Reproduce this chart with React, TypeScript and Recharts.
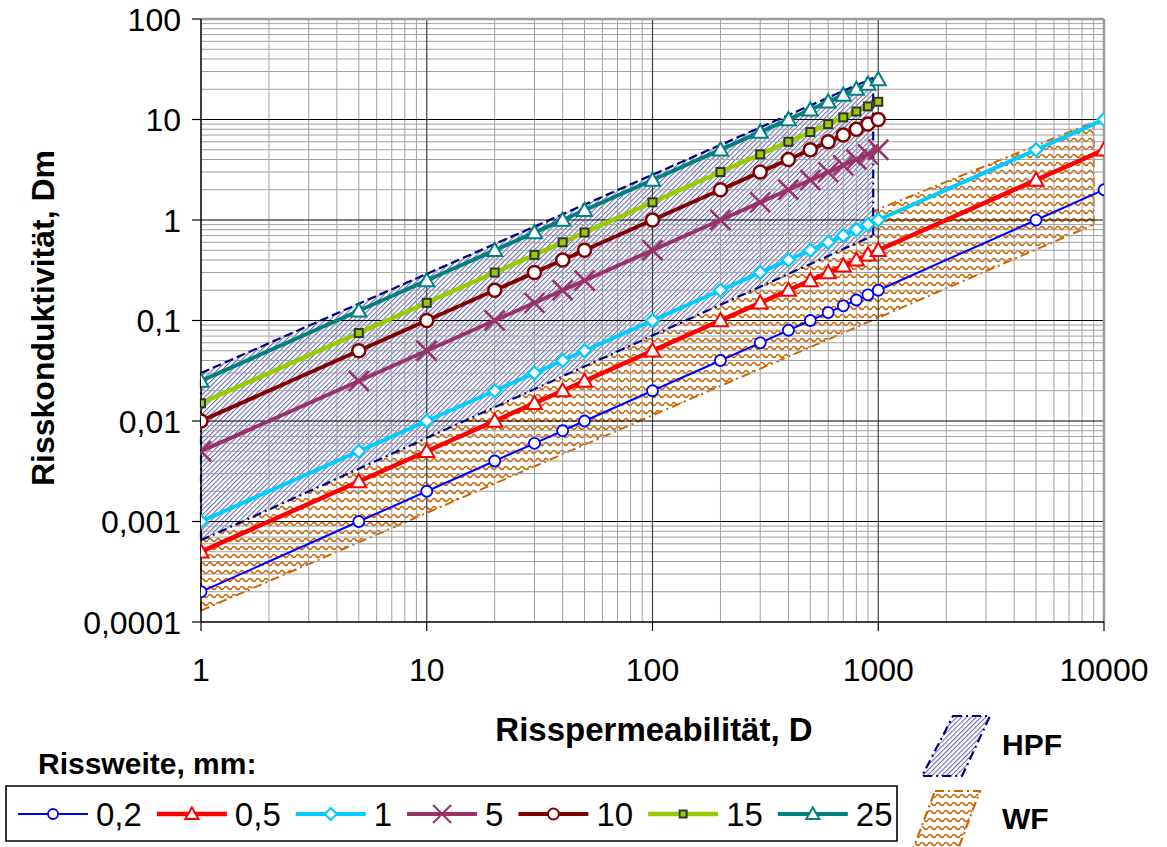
import React from "react";
import { ComposedChart, Line, Area, XAxis, YAxis, ReferenceLine } from "recharts";

const FONT = '"Liberation Sans", Arial, Helvetica, sans-serif';

// Permeability sample points (D)
const permeabilityLong = [1, 5, 10, 20, 30, 40, 50, 100, 200, 300, 400, 500, 600, 700, 800, 900, 1000, 5000, 10000];
const permeabilityShort = [1, 5, 10, 20, 30, 40, 50, 100, 200, 300, 400, 500, 600, 700, 800, 900, 1000];

// Crack conductivity (Dm) for each crack width
const cond02 = [0.0002, 0.001, 0.002, 0.004, 0.006, 0.008, 0.01, 0.02, 0.04, 0.06, 0.08, 0.1, 0.12, 0.14, 0.16, 0.18, 0.2, 1, 2];
const cond05 = [0.0005, 0.0025, 0.005, 0.01, 0.015, 0.02, 0.025, 0.05, 0.1, 0.15, 0.2, 0.25, 0.3, 0.35, 0.4, 0.45, 0.5, 2.5, 5];
const cond1 = [0.001, 0.005, 0.01, 0.02, 0.03, 0.04, 0.05, 0.1, 0.2, 0.3, 0.4, 0.5, 0.6, 0.7, 0.8, 0.9, 1, 5, 10];
const cond5 = [0.005, 0.025, 0.05, 0.1, 0.15, 0.2, 0.25, 0.5, 1, 1.5, 2, 2.5, 3, 3.5, 4, 4.5, 5];
const cond10 = [0.01, 0.05, 0.1, 0.2, 0.3, 0.4, 0.5, 1, 2, 3, 4, 5, 6, 7, 8, 9, 10];
const cond15 = [0.015, 0.075, 0.15, 0.3, 0.45, 0.6, 0.75, 1.5, 3, 4.5, 6, 7.5, 9, 10.5, 12, 13.5, 15];
const cond25 = [0.025, 0.125, 0.25, 0.5, 0.75, 1, 1.25, 2.5, 5, 7.5, 10, 12.5, 15, 17.5, 20, 22.5, 25];

const widthLabels = ["0,2", "0,5", "1", "5", "10", "15", "25"];

// Axis ticks
const xTicks = [1, 10, 100, 1000, 10000];
const xTickLabels = ["1", "10", "100", "1000", "10000"];
const yTicks = [0.0001, 0.001, 0.01, 0.1, 1, 10, 100];
const yTickLabels = ["0,0001", "0,001", "0,01", "0,1", "1", "10", "100"];

// HPF band: permeability limits with lower / upper conductivity edges
const hpfPermeability = [1, 950];
const hpfLower = [0.00065, 0.7];
const hpfUpper = [0.03, 26];

// WF band
const wfPermeability = [1, 9000];
const wfLower = [0.00013, 0.9];
const wfUpper = [0.0024, 9.4];

const bandLabels = ["HPF", "WF"];

type MarkerKind = "circle" | "triangle" | "diamond" | "cross" | "square";

interface SeriesStyle {
  color: string;
  width: number;
  marker: MarkerKind;
  size: number;
  legendSize: number;
  markerStroke: string;
  markerWidth: number;
  markerFill: string;
}

const seriesStyles: SeriesStyle[] = [
  { color: "#0000FF", width: 2, marker: "circle", size: 5.5, legendSize: 5, markerStroke: "#0000FF", markerWidth: 1.8, markerFill: "#FFFFFF" },
  { color: "#FF0000", width: 4.5, marker: "triangle", size: 7.5, legendSize: 6.5, markerStroke: "#FF0000", markerWidth: 2, markerFill: "#FFFFFF" },
  { color: "#00CCFF", width: 4, marker: "diamond", size: 6.5, legendSize: 6, markerStroke: "#00CCFF", markerWidth: 2.2, markerFill: "#FFFFFF" },
  { color: "#993366", width: 4, marker: "cross", size: 10, legendSize: 9, markerStroke: "#993366", markerWidth: 2.5, markerFill: "none" },
  { color: "#800000", width: 4, marker: "circle", size: 6.5, legendSize: 5.5, markerStroke: "#800000", markerWidth: 2.5, markerFill: "#FFFFFF" },
  { color: "#99CC00", width: 4.5, marker: "square", size: 4, legendSize: 3.5, markerStroke: "#333333", markerWidth: 2, markerFill: "#99CC00" },
  { color: "#008080", width: 4, marker: "triangle", size: 7.5, legendSize: 6.5, markerStroke: "#008080", markerWidth: 2, markerFill: "#FFFFFF" },
];

const seriesValues = [cond02, cond05, cond1, cond5, cond10, cond15, cond25];
const seriesX = [permeabilityLong, permeabilityLong, permeabilityLong, permeabilityShort, permeabilityShort, permeabilityShort, permeabilityShort];

const seriesData = seriesValues.map((vals, s) => vals.map((y, i) => ({ x: seriesX[s][i], y })));
const hpfData = hpfPermeability.map((x, i) => ({ x, band: [hpfLower[i], hpfUpper[i]] }));
const wfData = wfPermeability.map((x, i) => ({ x, band: [wfLower[i], wfUpper[i]] }));

// log grid: minor lines 2..9 within each decade
const xDecades = [1, 10, 100, 1000];
const yDecades = [0.0001, 0.001, 0.01, 0.1, 1, 10];
const minorSteps = [2, 3, 4, 5, 6, 7, 8, 9];
const xMinor = xDecades.flatMap((d) => minorSteps.map((m) => m * d));
const yMinor = yDecades.flatMap((d) => minorSteps.map((m) => m * d));
const xMajorInner = [10, 100, 1000];
const yMajorInner = [0.001, 0.01, 0.1, 1, 10];

function markerShape(kind: MarkerKind, cx: number, cy: number, s: number, stroke: string, sw: number, fill: string, key?: string) {
  switch (kind) {
    case "circle":
      return <circle key={key} cx={cx} cy={cy} r={s} fill={fill} stroke={stroke} strokeWidth={sw} />;
    case "triangle":
      return (
        <polygon
          key={key}
          points={`${cx},${cy - s} ${cx + s},${cy + s * 0.75} ${cx - s},${cy + s * 0.75}`}
          fill={fill}
          stroke={stroke}
          strokeWidth={sw}
        />
      );
    case "diamond":
      return (
        <polygon
          key={key}
          points={`${cx},${cy - s} ${cx + s},${cy} ${cx},${cy + s} ${cx - s},${cy}`}
          fill={fill}
          stroke={stroke}
          strokeWidth={sw}
        />
      );
    case "cross":
      return (
        <g key={key} stroke={stroke} strokeWidth={sw}>
          <line x1={cx - s} y1={cy - s} x2={cx + s} y2={cy + s} />
          <line x1={cx - s} y1={cy + s} x2={cx + s} y2={cy - s} />
        </g>
      );
    case "square":
    default:
      return <rect key={key} x={cx - s} y={cy - s} width={2 * s} height={2 * s} fill={fill} stroke={stroke} strokeWidth={sw} />;
  }
}

const makeDot = (st: SeriesStyle) => (p: any) => {
  const { cx, cy, index } = p;
  if (cx == null || cy == null || isNaN(cx) || isNaN(cy)) return <g key={`e${index}`} />;
  return markerShape(st.marker, cx, cy, st.size, st.markerStroke, st.markerWidth, st.markerFill, `d${index}`);
};

const XTick = (props: any) => {
  const { x, y, payload } = props;
  const idx = xTicks.indexOf(payload.value);
  return (
    <text x={x} y={y + 50} textAnchor="middle" fontSize={32} fontFamily={FONT} fill="#000">
      {idx >= 0 ? xTickLabels[idx] : ""}
    </text>
  );
};

const YTick = (props: any) => {
  const { x, y, payload } = props;
  const idx = yTicks.findIndex((t) => Math.abs(t - payload.value) / t < 1e-6);
  return (
    <text x={x - 11} y={y} dy="0.36em" textAnchor="end" fontSize={32} fontFamily={FONT} fill="#000">
      {idx >= 0 ? yTickLabels[idx] : ""}
    </text>
  );
};

const HPF_STROKE = "#000080";
const WF_STROKE = "#CC6600";

function PatternDefs({ prefix }: { prefix: string }) {
  return (
    <defs>
      <pattern id={`${prefix}hpf`} width={3.4} height={3.4} patternUnits="userSpaceOnUse" patternTransform="rotate(45)">
        <rect x={0} y={0} width={3.4} height={3.4} fill="#FFFFFF" />
        <rect x={0} y={0} width={1.0} height={3.4} fill="#6464AE" />
      </pattern>
      <pattern id={`${prefix}wf`} width={8} height={8} patternUnits="userSpaceOnUse">
        <rect x={0} y={0} width={8} height={8} fill="#FFFFFF" />
        <path d="M0,4 Q2,1 4,4 Q6,7 8,4" fill="none" stroke="#CC6600" strokeWidth={1.6} />
      </pattern>
    </defs>
  );
}

// legend layout helpers
const LEGEND_FONT = 33;
const charEm = (c: string) => (c === "," ? 0.278 : 0.556);
const labelWidth = (t: string) => t.split("").reduce((a, c) => a + charEm(c) * LEGEND_FONT, 0);

function BottomLegend() {
  const items: React.ReactNode[] = [];
  let lx = 18;
  const cy = 814;
  widthLabels.forEach((label, i) => {
    const st = seriesStyles[i];
    items.push(
      <g key={label}>
        <line x1={lx} y1={cy} x2={lx + 70} y2={cy} stroke={st.color} strokeWidth={st.width} />
        {markerShape(st.marker, lx + 35, cy, st.legendSize, st.markerStroke, Math.min(st.markerWidth, 2), st.markerFill)}
        <text x={lx + 78} y={cy + 12} fontSize={LEGEND_FONT} fontFamily={FONT} fill="#000">
          {label}
        </text>
      </g>
    );
    lx += 70 + 8 + labelWidth(label) + 15;
  });
  return (
    <g>
      <text x={38} y={774} fontSize={30} fontWeight="bold" fontFamily={FONT} fill="#000">
        Rissweite, mm:
      </text>
      <rect x={6} y={786} width={891} height={55} fill="#FFFFFF" />
      {items}
      <path d="M6,786 H897 V841 H6 Z" fill="none" stroke="#000" strokeWidth={1.6} />
    </g>
  );
}

function BandKeys() {
  return (
    <g>
      <polygon
        points="953,716 990,716 962,776 922,776"
        fill="url(#keyhpf)"
        stroke={HPF_STROKE}
        strokeWidth={2.2}
        strokeDasharray="9 4 2 4"
      />
      <text x={1002} y={755} fontSize={30} fontWeight="bold" fontFamily={FONT} fill="#000">
        {bandLabels[0]}
      </text>
      <polygon
        points="935,791 980,791 957,852 912,852"
        fill="url(#keywf)"
        stroke={WF_STROKE}
        strokeWidth={2.2}
        strokeDasharray="9 4 2 4"
      />
      <text x={1002} y={829} fontSize={30} fontWeight="bold" fontFamily={FONT} fill="#000">
        {bandLabels[1]}
      </text>
    </g>
  );
}

export default function App() {
  return (
    <div style={{ position: "relative", width: 1167, height: 847, overflow: "hidden", fontFamily: FONT, background: "#FFFFFF" }}>
      <style>{"html,body{margin:0;padding:0;overflow:hidden;}"}</style>
      <div style={{ position: "absolute", left: 0, top: 0, width: 1167, height: 847 }}>
        <ComposedChart width={1167} height={847} margin={{ top: 19, right: 63, bottom: 0, left: 0 }}>
          <PatternDefs prefix="plot" />
          <XAxis
            type="number"
            dataKey="x"
            scale="log"
            domain={[1, 10000]}
            ticks={xTicks}
            allowDataOverflow
            height={225}
            tickSize={9}
            tickMargin={0}
            tick={<XTick />}
            axisLine={{ stroke: "#000", strokeWidth: 1.5 }}
            tickLine={{ stroke: "#000", strokeWidth: 1.2 }}
          />
          <YAxis
            type="number"
            scale="log"
            domain={[0.0001, 100]}
            ticks={yTicks}
            allowDataOverflow
            width={201}
            tickSize={9}
            tickMargin={0}
            tick={<YTick />}
            axisLine={{ stroke: "#000", strokeWidth: 1.5 }}
            tickLine={{ stroke: "#000", strokeWidth: 1.2 }}
          />

          <Area
            data={wfData}
            dataKey="band"
            type="linear"
            stroke="none"
            fill="url(#plotwf)"
            fillOpacity={1}
            isAnimationActive={false}
            activeDot={false}
            zIndex={100}
          />
          <ReferenceLine
            segment={[{ x: wfPermeability[0], y: wfLower[0] }, { x: wfPermeability[1], y: wfLower[1] }]}
            stroke={WF_STROKE} strokeWidth={2} strokeDasharray="9 4 2 4" zIndex={110}
          />
          <ReferenceLine
            segment={[{ x: wfPermeability[0], y: wfUpper[0] }, { x: wfPermeability[1], y: wfUpper[1] }]}
            stroke={WF_STROKE} strokeWidth={2} strokeDasharray="9 4 2 4" zIndex={110}
          />
          <ReferenceLine
            segment={[{ x: wfPermeability[0], y: wfLower[0] }, { x: wfPermeability[0], y: wfUpper[0] }]}
            stroke={WF_STROKE} strokeWidth={2} strokeDasharray="9 4 2 4" zIndex={110}
          />
          <ReferenceLine
            segment={[{ x: wfPermeability[1], y: wfLower[1] }, { x: wfPermeability[1], y: wfUpper[1] }]}
            stroke={WF_STROKE} strokeWidth={2} strokeDasharray="9 4 2 4" zIndex={110}
          />

          <Area
            data={hpfData}
            dataKey="band"
            type="linear"
            stroke="none"
            fill="url(#plothpf)"
            fillOpacity={1}
            isAnimationActive={false}
            activeDot={false}
            zIndex={120}
          />

          {xMinor.map((v) => (
            <ReferenceLine key={`xm${v}`} x={v} stroke="#A0A0A0" strokeWidth={1} zIndex={130} />
          ))}
          {yMinor.map((v) => (
            <ReferenceLine key={`ym${v}`} y={v} stroke="#A0A0A0" strokeWidth={1} zIndex={130} />
          ))}
          {xMajorInner.map((v) => (
            <ReferenceLine key={`xM${v}`} x={v} stroke="#404040" strokeWidth={1.2} zIndex={135} />
          ))}
          {yMajorInner.map((v) => (
            <ReferenceLine key={`yM${v}`} y={v} stroke="#000000" strokeWidth={1.2} zIndex={135} />
          ))}
          <ReferenceLine y={100} stroke="#9A9A9A" strokeWidth={2.5} zIndex={135} />
          <ReferenceLine x={10000} stroke="#9A9A9A" strokeWidth={2.5} zIndex={135} />

          <ReferenceLine
            segment={[{ x: hpfPermeability[0], y: hpfUpper[0] }, { x: hpfPermeability[1], y: hpfUpper[1] }]}
            stroke={HPF_STROKE} strokeWidth={2.2} strokeDasharray="9 4" zIndex={140}
          />
          <ReferenceLine
            segment={[{ x: hpfPermeability[0], y: hpfLower[0] }, { x: hpfPermeability[1], y: hpfLower[1] }]}
            stroke={HPF_STROKE} strokeWidth={2.2} strokeDasharray="9 4 2 4" zIndex={140}
          />
          <ReferenceLine
            segment={[{ x: hpfPermeability[0], y: hpfLower[0] }, { x: hpfPermeability[0], y: hpfUpper[0] }]}
            stroke={HPF_STROKE} strokeWidth={2.2} strokeDasharray="9 4 2 4" zIndex={140}
          />
          <ReferenceLine
            segment={[{ x: hpfPermeability[1], y: hpfLower[1] }, { x: hpfPermeability[1], y: hpfUpper[1] }]}
            stroke={HPF_STROKE} strokeWidth={2.2} strokeDasharray="9 4 2 4" zIndex={140}
          />

          {seriesData.map((data, s) => (
            <Line
              key={widthLabels[s]}
              name={widthLabels[s]}
              data={data}
              dataKey="y"
              type="linear"
              stroke={seriesStyles[s].color}
              strokeWidth={seriesStyles[s].width}
              dot={makeDot(seriesStyles[s])}
              activeDot={false}
              isAnimationActive={false}
              zIndex={400 + s}
            />
          ))}
        </ComposedChart>
      </div>

      <svg
        width={1167}
        height={847}
        style={{ position: "absolute", left: 0, top: 0, pointerEvents: "none" }}
      >
        <PatternDefs prefix="key" />
        <text
          transform="translate(54,318) rotate(-90)"
          textAnchor="middle"
          fontSize={32}
          fontWeight="bold"
          fontFamily={FONT}
          fill="#000"
        >
          Risskonduktivität, Dm
        </text>
        <text x={654} y={741} textAnchor="middle" fontSize={33} fontWeight="bold" fontFamily={FONT} fill="#000">
          Risspermeabilität, D
        </text>
        <BottomLegend />
        <BandKeys />
      </svg>
    </div>
  );
}
